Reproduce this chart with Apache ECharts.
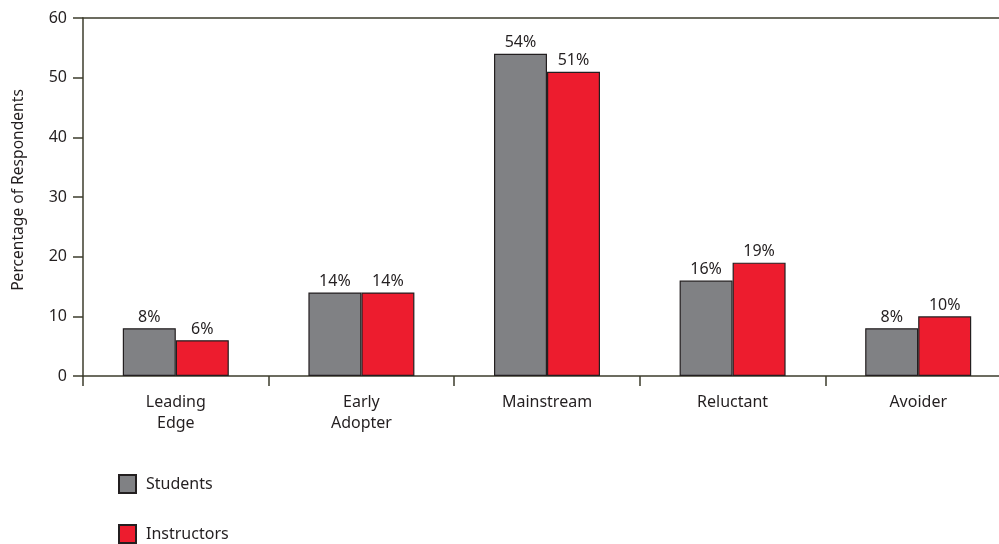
<!DOCTYPE html>
<html>
<head>
<meta charset="utf-8">
<script src="https://cdn.jsdelivr.net/npm/echarts@6/dist/echarts.min.js"></script>
<style>html,body{margin:0;padding:0;background:#fff;}#c{width:999px;height:544px;}</style>
</head>
<body>
<div id="c"></div>
<script>
var categories = ['Leading\nEdge', 'Early\nAdopter', 'Mainstream', 'Reluctant', 'Avoider'];
var students = [8, 14, 54, 16, 8];
var instructors = [6, 14, 51, 19, 10];
var yTicks = [0, 10, 20, 30, 40, 50, 60];

var FONT = 'Noto Sans';
var axisColor = '#3d3d2c';
var chart = echarts.init(document.getElementById('c'), null, {renderer: 'canvas'});
var labelCfg = {
  show: true, position: 'top', distance: 3,
  formatter: '{c}%', color: '#231f20', fontFamily: FONT, fontSize: 16
};
function legendFor(name, top) {
  return {
    left: 113, top: top, padding: 5, itemWidth: 17, itemHeight: 18,
    icon: 'rect',
    textStyle: {fontFamily: FONT, fontSize: 16, color: '#231f20', padding: [8, 0, 0, 5]},
    data: [name]
  };
}
chart.setOption({
  animation: false,
  textStyle: {fontFamily: FONT},
  grid: {left: 83, top: 18, width: 928, height: 358, containLabel: false, outerBoundsMode: 'none'},
  legend: [legendFor('Students', 469), legendFor('Instructors', 519)],
  xAxis: [{
    type: 'category', data: categories, position: 'bottom',
    axisLine: {lineStyle: {color: axisColor, width: 1.5}},
    axisTick: {show: true, length: 10, inside: false, lineStyle: {color: axisColor, width: 1.5}},
    axisLabel: {fontFamily: FONT, fontSize: 16, color: '#231f20', margin: 16, lineHeight: 21, interval: 0}
  }, {
    type: 'category', data: categories, position: 'top',
    axisLine: {show: true, lineStyle: {color: axisColor, width: 1.5}},
    axisTick: {show: false}, axisLabel: {show: false}
  }],
  yAxis: {
    type: 'value', min: 0, max: 60, interval: 10,
    name: 'Percentage of Respondents', nameLocation: 'middle', nameGap: 56,
    nameTextStyle: {fontFamily: FONT, fontSize: 15.6, color: '#231f20', padding: [0, 0, 0, 14]},
    axisLine: {show: true, lineStyle: {color: axisColor, width: 1.5}},
    axisTick: {show: true, length: 10, lineStyle: {color: axisColor, width: 1.5}},
    axisLabel: {fontFamily: FONT, fontSize: 16, color: '#231f20', margin: 16,
      formatter: function (v) { return yTicks.indexOf(v) >= 0 ? String(v) : ''; }},
    splitLine: {show: false}
  },
  series: [{
    name: 'Students', type: 'bar', data: students, barWidth: 53, barGap: '0%',
    itemStyle: {color: '#808184', borderColor: '#231f20', borderWidth: 1.2},
    label: labelCfg
  }, {
    name: 'Instructors', type: 'bar', data: instructors, barWidth: 53, barGap: '0%',
    itemStyle: {color: '#ed1c2e', borderColor: '#231f20', borderWidth: 1.2},
    label: labelCfg
  }]
});
</script>
</body>
</html>
